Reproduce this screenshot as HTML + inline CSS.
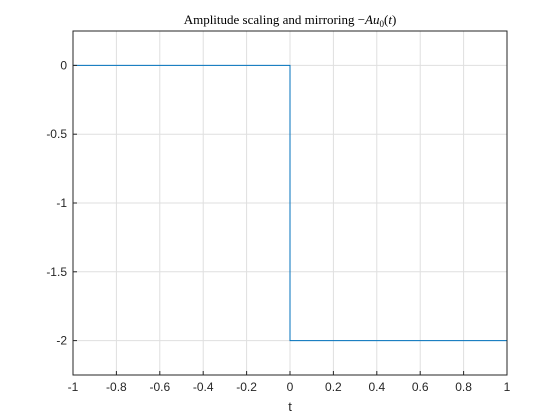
<!DOCTYPE html>
<html><head><meta charset="utf-8"><style>body{margin:0;background:#fff}svg{display:block}</style></head>
<body>
<svg id="chart" width="560" height="420" xmlns="http://www.w3.org/2000/svg" font-family="Liberation Sans, sans-serif">
<rect width="560" height="420" fill="#fff"/>
<g id="grid"></g>
<g id="series"></g>
<rect x="73" y="31" width="434" height="344" fill="none" stroke="#262626" stroke-width="1"/>
<g id="ticks" font-size="12" fill="#262626"></g>
<text x="290" y="24" text-anchor="middle" font-family="Liberation Serif, serif" font-size="13" fill="#000">Amplitude scaling and mirroring −<tspan font-style="italic">Au</tspan><tspan font-size="9" dy="3">0</tspan><tspan dy="-3">(</tspan><tspan font-style="italic">t</tspan>)</text>
<text x="290" y="411" text-anchor="middle" font-size="13" fill="#262626">t</text>
</svg>
<script>
const xTicks=[-1,-0.8,-0.6,-0.4,-0.2,0,0.2,0.4,0.6,0.8,1];
const xTickLabels=["-1","-0.8","-0.6","-0.4","-0.2","0","0.2","0.4","0.6","0.8","1"];
const yTicks=[0,-0.5,-1,-1.5,-2];
const yTickLabels=["0","-0.5","-1","-1.5","-2"];
const tValues=[-1,0,0,1];
const yValues=[0,0,-2,-2];
const L=73,R=507,T=31,B=375;
const xMin=-1,xMax=1,yMin=-2.25,yMax=0.25;
function sx(v){return L+(v-xMin)/(xMax-xMin)*(R-L);}
function sy(v){return B-(v-yMin)/(yMax-yMin)*(B-T);}
const NS="http://www.w3.org/2000/svg";
const grid=document.getElementById('grid'),ticks=document.getElementById('ticks'),series=document.getElementById('series');
function mk(tag,attrs,parent){const e=document.createElementNS(NS,tag);for(const k in attrs)e.setAttribute(k,attrs[k]);parent.appendChild(e);return e;}
xTicks.forEach((v,i)=>{const x=sx(v);
 const g=mk('line',{x1:x,x2:x,y1:T,y2:B,stroke:'#dfdfdf','stroke-width':1},grid);
 
 
 const t=mk('line',{x1:x,x2:x,y1:B,y2:B-4,stroke:'#262626'},ticks);
 
 
 const l=mk('text',{x:x,y:B+16,'text-anchor':'middle'},ticks);l.textContent=xTickLabels[i];
 
 
});
yTicks.forEach((v,i)=>{const y=sy(v);
 const g=mk('line',{x1:L,x2:R,y1:y,y2:y,stroke:'#dfdfdf','stroke-width':1},grid);
 
 
 const t=mk('line',{x1:L,x2:L+4,y1:y,y2:y,stroke:'#262626'},ticks);
 
 
 const l=mk('text',{x:L-6,y:y+4,'text-anchor':'end'},ticks);l.textContent=yTickLabels[i];
 
 
});
const pts=tValues.map((t,i)=>sx(t)+','+sy(yValues[i])).join(' ');
const pl=mk('polyline',{points:pts,fill:'none',stroke:'#0072bd','stroke-width':1},series);


</script>
</body></html>
